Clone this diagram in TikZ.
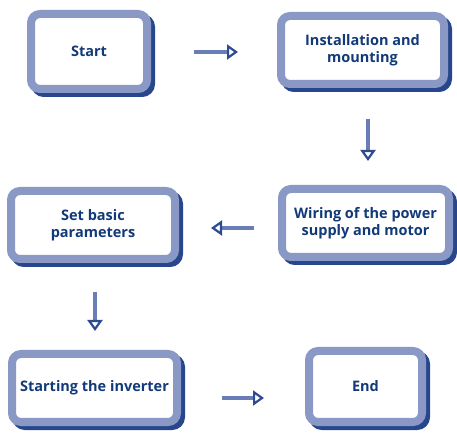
\documentclass[tikz,border=0pt]{standalone}
\usepackage{fontspec}
\setmainfont{Open Sans}
\usetikzlibrary{arrows.meta}
\definecolor{boxborder}{RGB}{138,152,198}
\definecolor{boxshadow}{RGB}{40,70,140}
\definecolor{txtblue}{RGB}{18,58,120}
\definecolor{arrline}{RGB}{105,125,185}
\definecolor{arrhead}{RGB}{45,75,145}
\begin{document}
\begin{tikzpicture}[x=1pt,y=1pt,
  flowbox/.style={draw=boxborder, line width=8pt, fill=white, rounded corners=9pt,
    inner sep=0pt, align=center, text=txtblue,
    font=\fontsize{14.5}{17.5}\selectfont\bfseries,
    preaction={draw=boxshadow, fill=boxshadow, line width=8pt,
      transform canvas={shift={(4pt,-4pt)}}}},
  flowarrow/.style={draw=arrline, line width=4pt,
    -{Triangle[open, length=11pt, width=15pt, line width=2.2pt, fill=white, color=arrhead]}}
]
\useasboundingbox (0,0) rectangle (457,433);
\node[flowbox, minimum width=116, minimum height=75] (start) at (89,381.5) {Start};
\node[flowbox, minimum width=163, minimum height=68] (inst) at (362.5,383) {Installation and\\mounting};
\node[flowbox, minimum width=167, minimum height=68] (wire) at (365.5,210) {Wiring of the power\\supply and motor};
\node[flowbox, minimum width=164, minimum height=68] (param) at (93,208) {Set basic\\parameters};
\node[flowbox, minimum width=165, minimum height=68] (run) at (94.5,45) {Starting the inverter};
\node[flowbox, minimum width=113, minimum height=71] (stop) at (365.5,46.5) {End};

\draw[flowarrow, shorten <=43pt, shorten >=39pt] ([yshift=-0.5pt]start.east) -- ([yshift=-0.5pt]start.east -| inst.west);
\draw[flowarrow, shorten <=31pt, shorten >=24pt] ([xshift=5.5pt]inst.south) -- ([xshift=5.5pt]inst.south |- wire.north);
\draw[flowarrow, shorten <=24pt, shorten >=32pt] ([yshift=-5pt]wire.west) -- ([yshift=-5pt]wire.west -| param.east);
\draw[flowarrow, shorten <=29pt, shorten >=19pt] ([xshift=2pt]param.south) -- ([xshift=2pt]param.south |- run.north);
\draw[flowarrow, shorten <=41pt, shorten >=41pt] ([yshift=-10pt]run.east) -- ([yshift=-10pt]run.east -| stop.west);
\end{tikzpicture}
\end{document}
